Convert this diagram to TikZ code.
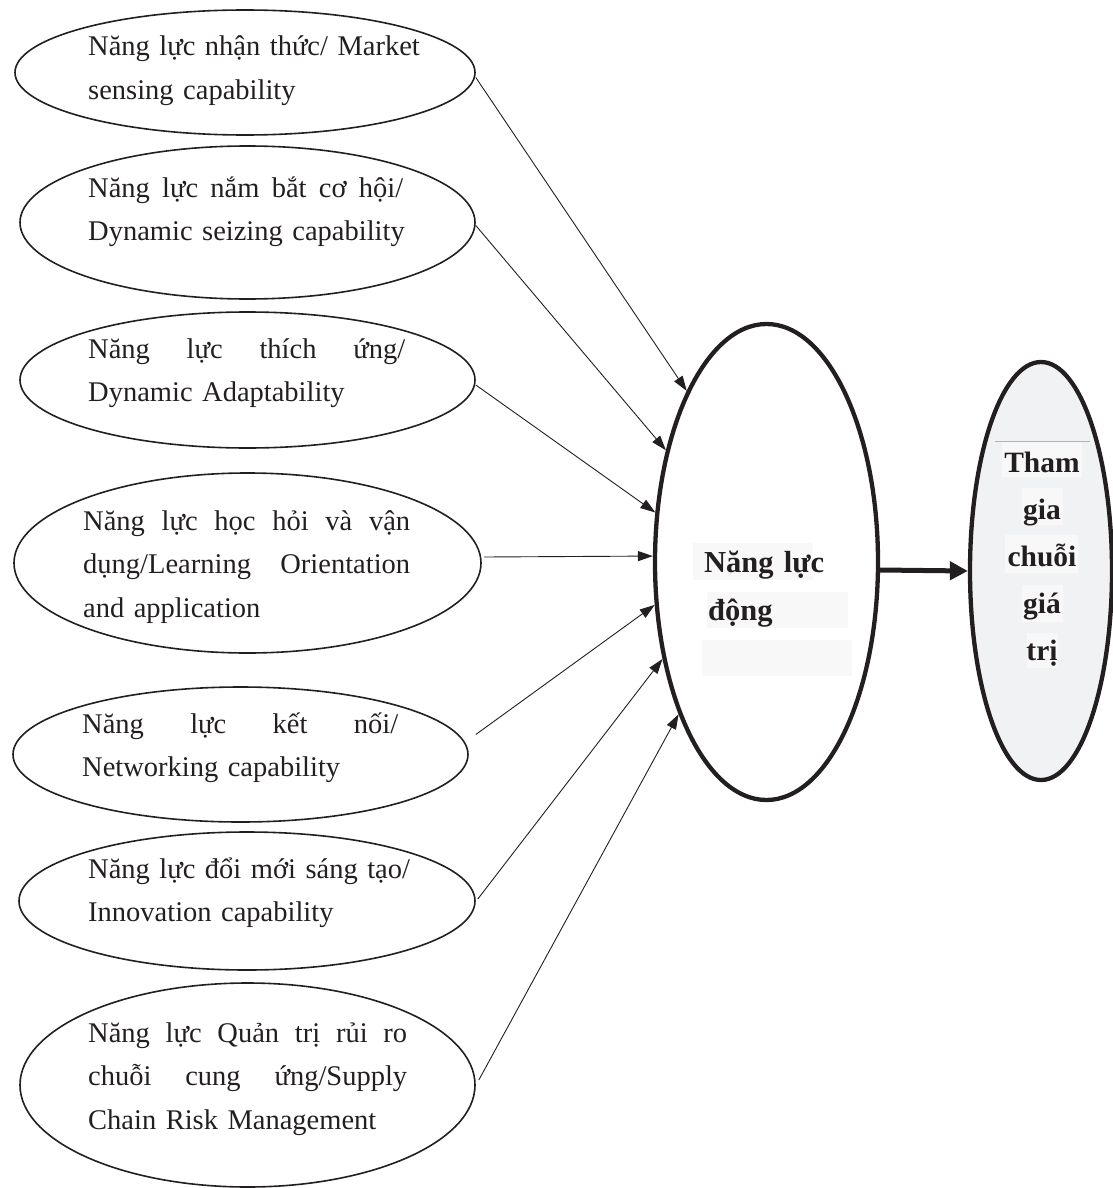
\documentclass[tikz,border=0pt]{standalone}
\usepackage{fontspec}
\setmainfont{Liberation Serif}
\usetikzlibrary{shapes.geometric,arrows.meta}
\definecolor{ink}{RGB}{35,31,32}
\definecolor{rfill}{RGB}{241,242,244}
\definecolor{hl}{RGB}{248,248,248}
\newcommand\jline[2]{\leavevmode\hbox to #1{#2}}
\begin{document}
\begin{tikzpicture}[x=1pt,y=-1pt,
  oval/.style={draw=ink,shape=ellipse,inner sep=0pt,line width=1.6pt},
  bigoval/.style={draw=ink,shape=ellipse,inner sep=0pt,line width=4.3pt},
  lbl/.style={anchor=base west,inner sep=0pt,text width=340pt,align=left,text=ink,font=\fontsize{28.5}{43.5}\selectfont},
  blbl/.style={inner sep=0pt,text=ink,font=\fontsize{30.5}{48}\selectfont\bfseries},
  thinarrow/.style={draw=ink,line width=0.9pt,-{Triangle[length=15pt,width=10pt]}},
  thickarrow/.style={draw=ink,line width=5pt,-{Triangle[length=18pt,width=18pt]}},
]
\useasboundingbox (0,0) rectangle (1113,1188);

% left ellipses
\node[oval,minimum width=460pt,minimum height=125pt] (e1) at (245,72.5) {};
\node[oval,minimum width=455pt,minimum height=153pt] (e2) at (247.5,222.5) {};
\node[oval,minimum width=455pt,minimum height=136pt] (e3) at (247.5,380) {};
\node[oval,minimum width=467pt,minimum height=180pt] (e4) at (247.5,563) {};
\node[oval,minimum width=455pt,minimum height=135pt] (e5) at (240.5,754.5) {};
\node[oval,minimum width=456pt,minimum height=138pt] (e6) at (247,901) {};
\node[oval,minimum width=455pt,minimum height=204pt] (e7) at (247.5,1085) {};

% central and right ellipses
\node[bigoval,minimum width=223pt,minimum height=476pt] (c) at (766.5,562) {};
\node[bigoval,fill=rfill,minimum width=142pt,minimum height=418pt] (r) at (1041,571) {};

% faint text highlight boxes
\fill[hl] (693,543) rectangle (813,580);
\fill[hl] (707,592) rectangle (848,628);
\fill[hl] (702,640) rectangle (852,676);
\draw[black!30,line width=1pt] (995,441) -- (1090,441);
\fill[hl] (1002,442) rectangle (1082,477);
\fill[hl] (1022,488) rectangle (1063,525);
\fill[hl] (1005,535) rectangle (1078,573);
\fill[hl] (1022,585) rectangle (1063,622);
\fill[hl] (1027,633) rectangle (1058,668);

% texts
\node[lbl] (t1) at (88,56) {Năng lực nhận thức/ Market\\sensing capability};
\node[lbl] (t2) at (88,197) {\jline{315pt}{Năng\hfill lực\hfill nắm\hfill bắt\hfill cơ\hfill hội/}\\Dynamic seizing capability};
\node[lbl] (t3) at (88,358) {\jline{317pt}{Năng\hfill lực\hfill thích\hfill ứng/}\\Dynamic Adaptability};
\node[lbl] (t4) at (83,530) {\jline{327pt}{Năng\hfill lực\hfill học\hfill hỏi\hfill và\hfill vận}\\\jline{327pt}{dụng/Learning\hfill Orientation}\\and application};
\node[lbl] (t5) at (82,733) {\jline{316pt}{Năng\hfill lực\hfill kết\hfill nối/}\\Networking capability};
\node[lbl] (t6) at (88,878) {Năng lực đổi mới sáng tạo/\\Innovation capability};
\node[lbl] (t7) at (88,1042) {\jline{319pt}{Năng\hfill lực\hfill Quản\hfill trị\hfill rủi\hfill ro}\\\jline{319pt}{chuỗi\hfill cung\hfill ứng/Supply}\\Chain Risk Management};

\node[blbl,anchor=base west,text width=170pt,align=left] (tc) at (704,572) {Năng lực\\\hspace*{4pt}động};
\node[blbl,anchor=base,text width=110pt,align=center,font=\fontsize{29.5}{47}\selectfont\bfseries] (tr) at (1042,472) {Tham\\gia\\chuỗi\\giá\\trị};

% connectors
\draw[thinarrow] ([yshift=-5pt]e1.east) -- (c.115);
\draw[thinarrow] ([yshift=-3pt]e2.east) -- (c.132);
\draw[thinarrow] ([yshift=-5pt]e3.east) -- (c.156);
\draw[thinarrow] ([xshift=2pt,yshift=6pt]e4.east) -- (c.177.5);
\draw[thinarrow] ([xshift=7pt,yshift=20pt]e5.east) -- (c.201);
\draw[thinarrow] ([xshift=2pt,yshift=2pt]e6.east) -- (c.223);
\draw[thinarrow] ([xshift=3pt,yshift=5pt]e7.east) -- (c.240);
\draw[thickarrow] ([yshift=-8pt]c.east) -- (r.west);
\end{tikzpicture}
\end{document}
